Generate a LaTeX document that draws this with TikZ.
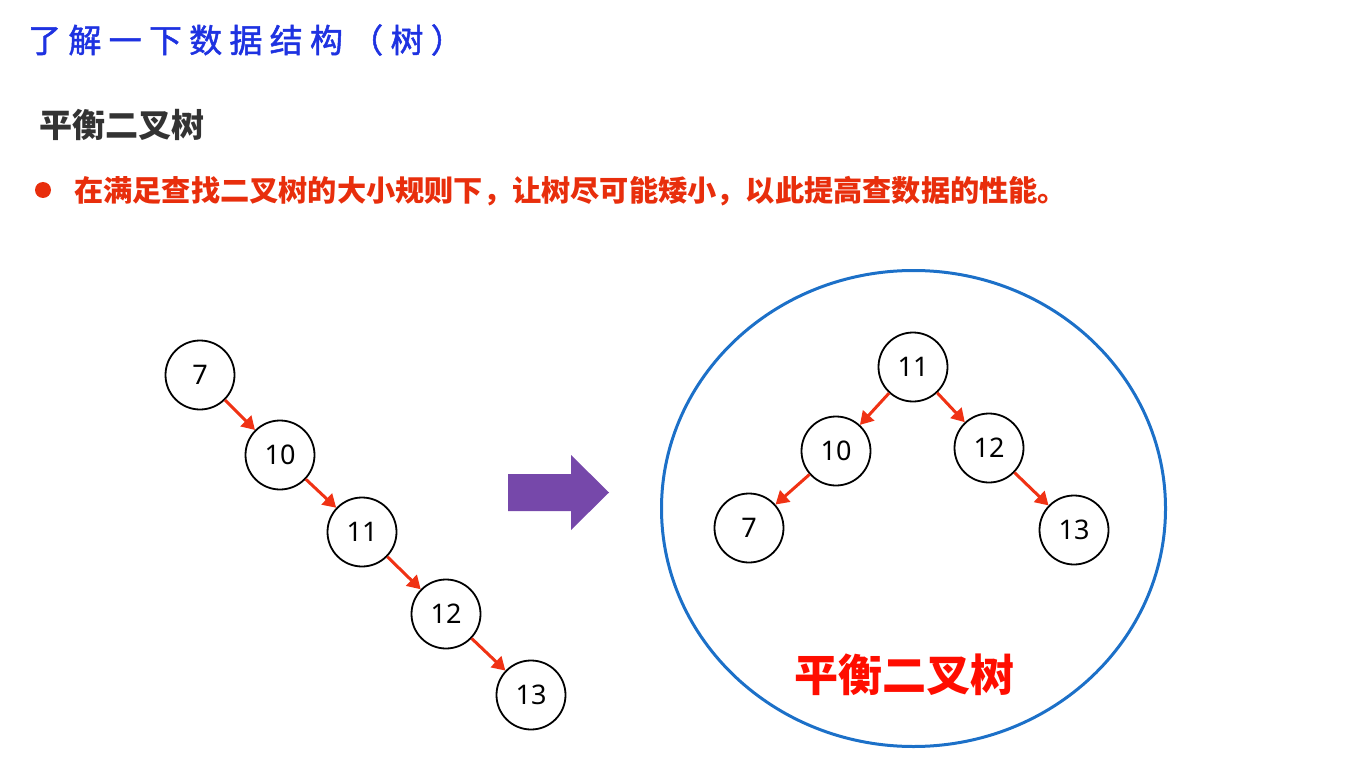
\documentclass[tikz,border=0pt]{standalone}
\usepackage{fontspec}
\setmainfont{Noto Sans}
\newfontfamily\cjk{Noto Sans CJK SC}
\usetikzlibrary{arrows.meta}
\definecolor{titleblue}{RGB}{30,50,225}
\definecolor{hintred}{RGB}{232,46,12}
\definecolor{linkred}{RGB}{240,50,20}
\definecolor{ringblue}{RGB}{28,112,200}
\definecolor{turnpurple}{RGB}{118,72,170}
\begin{document}
\begin{tikzpicture}[x=1pt,y=-1pt,
        every node/.style={inner sep=0pt},
        num/.style={circle, draw, line width=1.8pt, minimum size=69pt, font=\fontsize{27}{27}\selectfont},
        link/.style={draw=linkred, line width=3pt, -{Triangle[length=13pt,width=15pt]}},
        heading/.style={anchor=west, font=\cjk\bfseries\fontsize{33}{33}\selectfont}]
    \useasboundingbox (0,0) rectangle (1365,762);
    \node[anchor=west, text=titleblue, font=\cjk\fontsize{33}{33}\selectfont] (title) at (28,40)
        {\addfontfeature{LetterSpace=22,FakeBold=1.5}了解一下数据结构（树）};
    \node[heading, text=black!80] (sub) at (39,125) {平衡二叉树};
    \fill[hintred] (43,190) circle (8) coordinate (dot);
    \node[heading, text=hintred, font=\cjk\bfseries\fontsize{29.2}{29.2}\selectfont] (rule) at (74,191)
        {在满足查找二叉树的大小规则下，让树尽可能矮小，以此提高查数据的性能。};
    \node[num] (a7) at (200,375) {7};
    \node[num] (a10) at (280,455) {10};
    \node[num] (a11) at (362,532) {11};
    \node[num] (a12) at (446,614) {12};
    \node[num] (a13) at (531,695) {13};
    \draw[link] (a7) -- (a10);
    \draw[link] (a10) -- (a11);
    \draw[link] (a11) -- (a12);
    \draw[link] (a12) -- (a13);
    \fill[turnpurple] (508,474) -- (571,474) -- (571,455) -- (609,492.5)
        -- (571,530) -- (571,511) -- (508,511) -- cycle;
    \draw[ringblue, line width=3pt] (913.5,508.5) ellipse [x radius=252, y radius=238];
    \node[num] (b11) at (913,367) {11};
    \node[num] (b10) at (836,451) {10};
    \node[num] (b12) at (989,448) {12};
    \node[num] (b7) at (749,528) {7};
    \node[num] (b13) at (1074,530) {13};
    \draw[link] (b11) -- (b10);
    \draw[link] (b11) -- (b12);
    \draw[link] (b10) -- (b7);
    \draw[link] (b12) -- (b13);
    \node[text=red!90!orange, font=\cjk\bfseries\fontsize{44}{44}\selectfont] (name) at (904,675) {平衡二叉树};
\end{tikzpicture}
\end{document}
